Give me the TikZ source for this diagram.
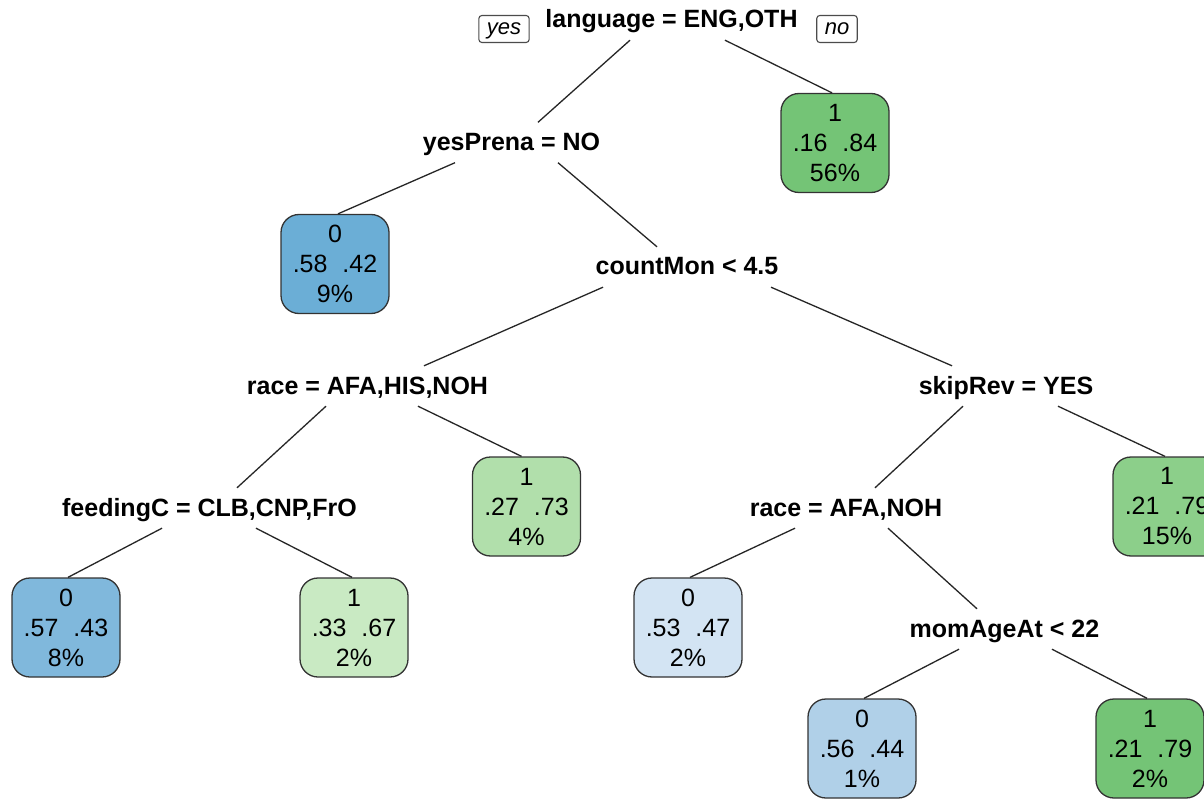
\documentclass[tikz,border=0pt]{standalone}
\usepackage{fontspec}
\setmainfont{Liberation Sans}
% leaf fills: blue for class 0, green for class 1, deeper with higher purity
\definecolor{gDeep}{HTML}{74C476}
\definecolor{gMid}{HTML}{8CCF8A}
\definecolor{gLight}{HTML}{B1DFAB}
\definecolor{gPale}{HTML}{C9EAC3}
\definecolor{bDeep}{HTML}{6BAED6}
\definecolor{bMid}{HTML}{80B8DC}
\definecolor{bLight}{HTML}{B0D0E8}
\definecolor{bPale}{HTML}{D3E4F3}
\begin{document}
\begin{tikzpicture}[x=1pt,y=-1pt,
  split/.style={font=\fontsize{25}{30}\selectfont\bfseries, inner sep=0pt,
    text height=18pt, text depth=0pt},
  leafbox/.style={draw=black!80, line width=1.3pt, rounded corners=18pt,
    minimum width=108pt, minimum height=99pt, align=center, inner sep=0pt,
    font=\fontsize{25}{30}\selectfont},
  branch/.style={draw=black!85, line width=1.3pt},
  tag/.style={draw=black!70, line width=1.1pt, rounded corners=3pt,
    font=\fontsize{22}{22}\selectfont\itshape, minimum height=27pt,
    inner xsep=8pt, inner ysep=0pt, text height=16pt, text depth=4pt}]
  \fill[white] (0,0) rectangle (1204,799);
  \clip (0,0) rectangle (1204,799);

  % split labels
  \node[split] (root) at (671.5,19) {language = ENG,OTH};
  \node[split] (yesp) at (511.5,141.5) {yesPrena = NO};
  \node[split] (cmon) at (687,266) {countMon < 4.5};
  \node[split] (raceA) at (367.5,385) {race = AFA,HIS,NOH};
  \node[split] (skip) at (1006,385) {skipRev = YES};
  \node[split] (feed) at (209.5,507) {feedingC = CLB,CNP,FrO};
  \node[split] (raceB) at (846,507) {race = AFA,NOH};
  \node[split] (mom) at (1004.5,628) {momAgeAt < 22};

  % direction tags at the root
  \node[tag] (yes) at (504,29) {yes};
  \node[tag] (no) at (837,29) {no};

  % leaves
  \newcommand{\leaftext}[4]{#1\\#2\hspace{15pt}#3\\#4\%}
  \node[leafbox, fill=gDeep] (l56) at (835,143) {\leaftext{1}{.16}{.84}{56}};
  \node[leafbox, fill=bDeep] (l9) at (335,264) {\leaftext{0}{.58}{.42}{9}};
  \node[leafbox, fill=gLight] (l4) at (526.5,506.5) {\leaftext{1}{.27}{.73}{4}};
  \node[leafbox, fill=gMid] (l15) at (1167,506.5) {\leaftext{1}{.21}{.79}{15}};
  \node[leafbox, fill=bMid] (l8) at (66,627.5) {\leaftext{0}{.57}{.43}{8}};
  \node[leafbox, fill=gPale] (l2a) at (354,627.5) {\leaftext{1}{.33}{.67}{2}};
  \node[leafbox, fill=bPale] (l2b) at (688,627.5) {\leaftext{0}{.53}{.47}{2}};
  \node[leafbox, fill=bLight] (l1) at (862,748.5) {\leaftext{0}{.56}{.44}{1}};
  \node[leafbox, fill=gDeep] (l2c) at (1150,748.5) {\leaftext{1}{.21}{.79}{2}};

  % branches
  \draw[branch] ([xshift=-41.5pt,yshift=-12pt]root.south) -- ([xshift=26.5pt,yshift=10pt]yesp.north);
  \draw[branch] ([xshift=53.5pt,yshift=-12pt]root.south) -- ([xshift=-3pt]l56.north);
  \draw[branch] ([xshift=-56.5pt,yshift=-12pt]yesp.south) -- ([xshift=3pt]l9.north);
  \draw[branch] ([xshift=46.5pt,yshift=-12pt]yesp.south) -- ([xshift=-30pt,yshift=10pt]cmon.north);
  \draw[branch] ([xshift=-84pt,yshift=-12pt]cmon.south) -- ([xshift=56.5pt,yshift=10pt]raceA.north);
  \draw[branch] ([xshift=84pt,yshift=-12pt]cmon.south) -- ([xshift=-54pt,yshift=10pt]skip.north);
  \draw[branch] ([xshift=-41.5pt,yshift=-12pt]raceA.south) -- ([xshift=27.5pt,yshift=10pt]feed.north);
  \draw[branch] ([xshift=50.5pt,yshift=-12pt]raceA.south) -- ([xshift=-5pt]l4.north);
  \draw[branch] ([xshift=-47.5pt,yshift=-12pt]feed.south) -- ([xshift=2pt]l8.north);
  \draw[branch] ([xshift=46.5pt,yshift=-12pt]feed.south) -- ([xshift=-2pt]l2a.north);
  \draw[branch] ([xshift=-43pt,yshift=-12pt]skip.south) -- ([xshift=29pt,yshift=10pt]raceB.north);
  \draw[branch] ([xshift=52pt,yshift=-12pt]skip.south) -- ([xshift=-2pt]l15.north);
  \draw[branch] ([xshift=-51pt,yshift=-12pt]raceB.south) -- ([xshift=2pt]l2b.north);
  \draw[branch] ([xshift=42pt,yshift=-12pt]raceB.south) -- ([xshift=-27.5pt,yshift=10pt]mom.north);
  \draw[branch] ([xshift=-45.5pt,yshift=-12pt]mom.south) -- ([xshift=2pt]l1.north);
  \draw[branch] ([xshift=47.5pt,yshift=-12pt]mom.south) -- ([xshift=-3pt]l2c.north);
\end{tikzpicture}
\end{document}
